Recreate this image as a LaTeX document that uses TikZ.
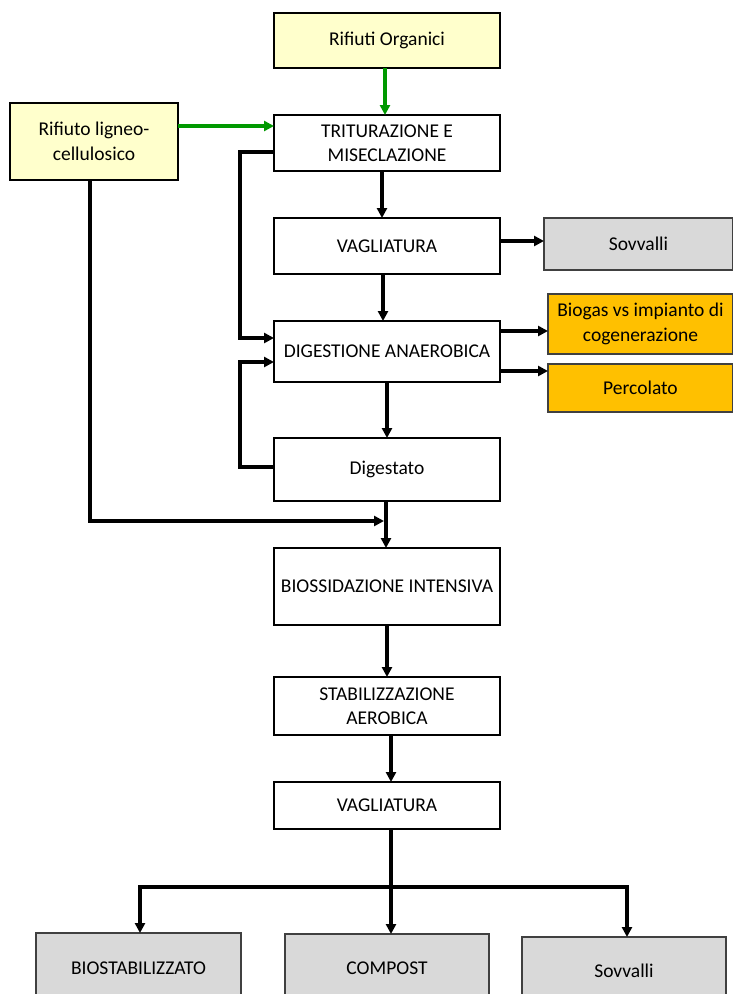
\documentclass[tikz,border=0pt]{standalone}
\usepackage{fontspec}
\setmainfont{Carlito}
\usetikzlibrary{arrows.meta}
\definecolor{pyellow}{HTML}{FFFFCC}
\definecolor{porange}{HTML}{FFC000}
\definecolor{pgray}{HTML}{D9D9D9}
\definecolor{pborder}{HTML}{404040}
\definecolor{pgreen}{HTML}{009900}
\begin{document}
\begin{tikzpicture}[x=1pt,y=-1pt,
  box/.style={draw=black,line width=2.4pt,rectangle,inner sep=0pt,outer sep=0pt,align=center,
    font=\fontsize{19.5}{24.5}\selectfont,minimum width=226pt},
  inbox/.style={box,fill=pyellow},
  graybox/.style={box,fill=pgray,draw=pborder,line width=1.4pt},
  orbox/.style={box,fill=porange,draw=pborder,line width=1.4pt},
  conn/.style={line width=3.4pt,draw=black},
  arr/.style={conn,-{Triangle[width=10pt,length=10pt]}},
  garr/.style={line width=3.4pt,draw=pgreen,-{Triangle[width=10pt,length=10pt]}}]
\useasboundingbox (0,0) rectangle (733,994);
\clip (0,0) rectangle (733,994);
% nodes
\node[inbox,minimum height=55pt] (org) at (387,40.5) {Rifiuti Organici};
\node[inbox,minimum width=168pt,minimum height=77pt] (lig) at (94,141.5) {Rifiuto ligneo-\\cellulosico};
\node[box,minimum height=56pt] (tri) at (387,143) {TRITURAZIONE E\\MISECLAZIONE};
\node[box,minimum height=56pt] (vag1) at (387,246) {VAGLIATURA};
\node[graybox,minimum width=189pt,minimum height=52pt] (sov1) at (638.5,244) {Sovvalli};
\node[box,minimum height=61pt] (dig) at (387,351.5) {DIGESTIONE ANAEROBICA};
\node[orbox,minimum width=185pt,minimum height=60pt] (bio) at (640.5,324) {Biogas vs impianto di\\cogenerazione};
\node[orbox,minimum width=185pt,minimum height=48pt] (perc) at (640.5,388) {Percolato};
\node[box,minimum height=63pt] (dgt) at (387,469.5) {Digestato};
\node[box,minimum height=77pt] (bioss) at (387,586.5) {BIOSSIDAZIONE INTENSIVA};
\node[box,minimum height=58pt] (stab) at (387,706) {STABILIZZAZIONE\\AEROBICA};
\node[box,minimum height=47pt] (vag2) at (387,805.5) {VAGLIATURA};
\node[graybox,minimum width=205pt,minimum height=70pt] (bst) at (138.5,968) {BIOSTABILIZZATO};
\node[graybox,minimum width=204pt,minimum height=69pt] (comp) at (387,968.5) {COMPOST};
\node[graybox,minimum width=204pt,minimum height=67pt] (sov2) at (624,970.5) {Sovvalli};
% green inputs
\draw[garr] (org.south -| 385,0) -- (tri.north -| 385,0);
\draw[garr] (lig.east |- 0,126) -- (tri.west |- 0,126);
% main chain
\draw[arr] (tri.south -| 382,0) -- (vag1.north -| 382,0);
\draw[arr] (vag1.south -| 383,0) -- (dig.north -| 383,0);
\draw[arr] (dig.south -| 387,0) -- (dgt.north -| 387,0);
\draw[arr] (dgt.south -| 386,0) -- (bioss.north -| 386,0);
\draw[arr] (bioss.south -| 387,0) -- (stab.north -| 387,0);
\draw[arr] (stab.south -| 391,0) -- (vag2.north -| 391,0);
% side outputs
\draw[arr] (vag1.east |- 0,241) -- (sov1.west |- 0,241);
\draw[arr] (dig.east |- 0,331) -- (bio.west |- 0,331);
\draw[arr] (dig.east |- 0,371) -- (perc.west |- 0,371);
% loops
\draw[arr] (tri.west |- 0,152) -| (240,338) -- (dig.west |- 0,338);
\draw[arr] (dgt.west |- 0,467) -| (240,362) -- (dig.west |- 0,362);
% ligneo bypass
\coordinate (join) at (384,521);
\draw[arr] (lig.south -| 90,0) |- (join);
% final split
\coordinate (split) at (391,887);
\draw[conn] (vag2.south -| 391,0) -- (split);
\draw[arr] (split) -| (bst.north -| 140,0);
\draw[arr] (split) -- (comp.north -| 391,0);
\draw[arr] (split) -| (sov2.north -| 627,0);
\end{tikzpicture}
\end{document}
